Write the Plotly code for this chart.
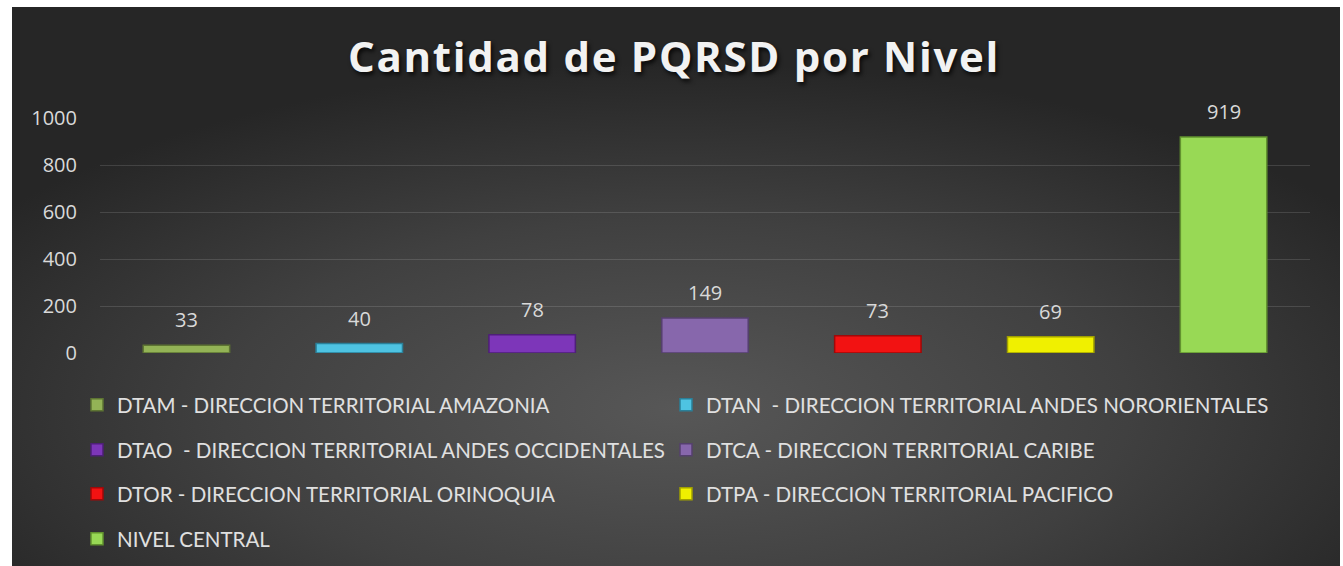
import base64
import plotly.graph_objects as go

categories = ["DTAM", "DTAN", "DTAO", "DTCA", "DTOR", "DTPA", "NIVEL"]
names = [
    "DTAM - DIRECCION TERRITORIAL AMAZONIA",
    "DTAN  - DIRECCION TERRITORIAL ANDES NORORIENTALES",
    "DTAO  - DIRECCION TERRITORIAL ANDES OCCIDENTALES",
    "DTCA - DIRECCION TERRITORIAL CARIBE",
    "DTOR - DIRECCION TERRITORIAL ORINOQUIA",
    "DTPA - DIRECCION TERRITORIAL PACIFICO",
    "NIVEL CENTRAL",
]
values = [33, 40, 78, 149, 73, 69, 919]
colors = ["#93B356", "#4EC3E2", "#7D36B9", "#8767AC", "#F21212", "#F0F000", "#98D955"]
edge_colors = ["#5E7533", "#2A8099", "#4E1F78", "#55406E", "#A00808", "#A0A000", "#62922F"]
legend_ids = ["legend", "legend2", "legend3", "legend4", "legend5", "legend6", "legend7"]
y_ticks = [0, 200, 400, 600, 800, 1000]

W, H = 1343, 566
L, R, T, B = 100, 33, 118, 213
pw, ph = W - L - R, H - T - B

def px_x(p):
    return (p - L) / pw

def px_y(p):
    return (H - B - p) / ph

svg = """<svg xmlns='http://www.w3.org/2000/svg' width='1328' height='560' preserveAspectRatio='none'>
<defs><radialGradient id='g' cx='50%' cy='72%' r='62%' fx='50%' fy='72%'>
<stop offset='0%' stop-color='#575757'/><stop offset='55%' stop-color='#404040'/><stop offset='100%' stop-color='#262626'/>
</radialGradient></defs><rect width='1328' height='560' fill='url(#g)'/></svg>"""
src = "data:image/svg+xml;base64," + base64.b64encode(svg.encode()).decode()

fig = go.Figure()
for cat, nm, v, c, ec, lg in zip(categories, names, values, colors, edge_colors, legend_ids):
    fig.add_trace(go.Bar(
        x=[cat], y=[v], name=nm, legend=lg,
        marker=dict(color=c, line=dict(color=ec, width=1.5)),
        width=0.5, hoverinfo="y",
    ))

for cat, v in zip(categories, values):
    fig.add_annotation(x=cat, y=v, text=str(v), showarrow=False, yanchor="bottom",
                       yshift=10, font=dict(family="Open Sans", size=20, color="#D9D9D9"))

legend_common = dict(orientation="h", xanchor="left", yanchor="middle", bgcolor="rgba(0,0,0,0)",
                     xref="container", yref="container",
                     font=dict(family="Lato", size=20.5, color="#E0E0E0"))
row_y = [405, 450, 494, 539]
col_x = [77, 666]
legend_pos = [(0, 0), (1, 0), (0, 1), (1, 1), (0, 2), (1, 2), (0, 3)]

layout_legends = {}
for lg, (ci, ri) in zip(legend_ids, legend_pos):
    layout_legends[lg] = dict(x=col_x[ci] / W, y=1 - row_y[ri] / H, **legend_common)

fig.update_layout(
    width=W, height=H,
    margin=dict(l=L, r=R, t=T, b=B, autoexpand=False),
    paper_bgcolor="white", plot_bgcolor="rgba(0,0,0,0)",
    barmode="overlay",
    showlegend=True,
    title=dict(text="<b><span style='letter-spacing:1.7px'>Cantidad de PQRSD por Nivel</span></b>",
               x=674 / W, xref="container", xanchor="center",
               y=1 - 57 / H, yref="container", yanchor="middle",
               font=dict(family="Open Sans", size=42, color="#F2F2F2",
                         shadow="2px 3px 4px rgba(0,0,0,0.75)")),
    xaxis=dict(showticklabels=False, showgrid=False, zeroline=False, showline=False, ticks=""),
    yaxis=dict(range=[0, 1000], tickvals=y_ticks, showgrid=True, gridcolor="rgba(255,255,255,0.13)",
               gridwidth=1, zeroline=False, showline=False, ticks="", automargin=False,
               tickfont=dict(family="Open Sans", size=20, color="#D9D9D9"), ticklabelstandoff=22),
    images=[dict(source=src, xref="paper", yref="paper", x=px_x(12), y=px_y(7),
                 sizex=(1340 - 12) / pw, sizey=(566 - 7) / ph, sizing="stretch",
                 xanchor="left", yanchor="top", layer="below")],
    **layout_legends,
)

fig.write_html("out.html", config={"displayModeBar": False},
               post_script="document.body.style.margin='0';document.body.style.overflow='hidden';")
